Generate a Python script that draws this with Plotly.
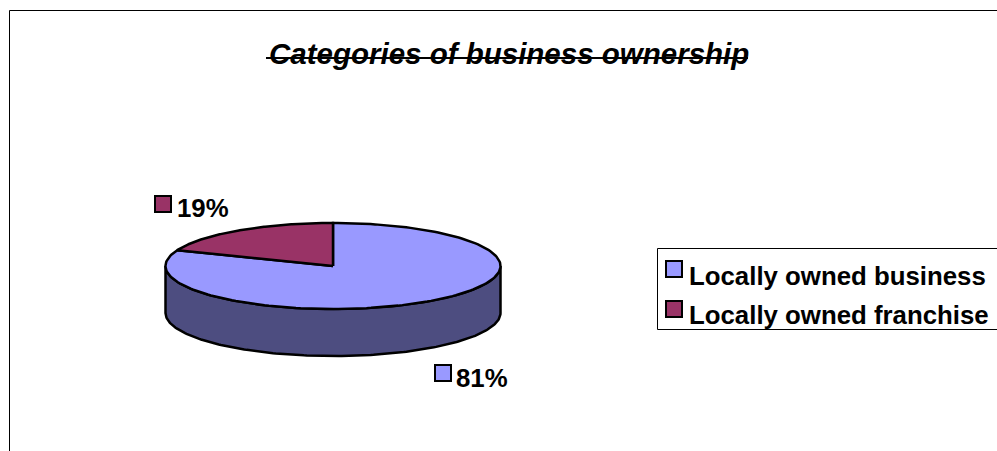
import numpy as np
import plotly.graph_objects as go

categories = ["Locally owned business", "Locally owned franchise"]
shares = [81, 19]
labels = ["81%", "19%"]
colors = ["#9999FF", "#993366"]
wall_color = "#4D4D80"
title = "Categories of business ownership"

FONT = "Liberation Sans, Arial, sans-serif"
W, H = 997, 451
# pie ellipse in pixels
cx, cy, rx, ry, depth = 333, 266, 167.5, 43, 47


def ellipse(start, end, dy=0):
    t = np.radians(np.linspace(start, end, 181))
    return cx + rx * np.sin(t), cy + dy - ry * np.cos(t)


fig = go.Figure()

# side wall, front half of the disc
x1, y1 = ellipse(90, 270)
x2, y2 = ellipse(270, 90, depth)
fig.add_trace(go.Scatter(
    x=np.r_[x1, x2, x1[0]], y=np.r_[y1, y2, y1[0]],
    mode="lines", fill="toself", fillcolor=wall_color,
    line=dict(color="black", width=2.5), hoverinfo="skip", showlegend=False))

# top slices, clockwise from 12 o'clock
start = 0
for name, share, color in zip(categories, shares, colors):
    end = start + share / sum(shares) * 360
    x, y = ellipse(start, end)
    fig.add_trace(go.Scatter(
        x=np.r_[cx, x, cx], y=np.r_[cy, y, cy],
        mode="lines", fill="toself", fillcolor=color, name=name,
        line=dict(color="black", width=2.5), showlegend=False))
    start = end


def line(x0, y0, x1, y1, color="black", width=1):
    return dict(type="line", x0=x0, y0=y0, x1=x1, y1=y1, layer="above",
                line=dict(color=color, width=width))


def swatch(x, y, color):
    return dict(type="rect", x0=x, y0=y, x1=x + 16, y1=y + 16, layer="above",
                fillcolor=color, line=dict(color="black", width=2))


def text(x, y, s, size=25.8, anchor="left", style="normal"):
    return dict(x=x, y=y, text=s, showarrow=False, xanchor=anchor, yanchor="middle",
                font=dict(family=FONT, size=size, color="black", weight="bold", style=style))


shapes = [
    # outer frame, runs off the page at right and bottom
    line(9.5, 10.5, W, 10.5), line(9.5, 10.5, 9.5, H),
    # title rule
    line(266, 58, 748, 58, width=2),
    # legend box
    dict(type="rect", x0=657.5, y0=248.5, x1=W + 5, y1=329.5, layer="below",
         fillcolor="white", line=dict(color="black", width=1)),
    swatch(666, 261, colors[0]), swatch(666, 301, colors[1]),
    swatch(155, 196, colors[1]), swatch(435, 365, colors[0]),
]

annotations = [
    text(508.5, 53, title, size=29.5, anchor="center", style="italic"),
    text(687, 276, categories[0]),
    text(687, 315, categories[1]),
    text(175, 208, labels[1]),
    text(454, 378, labels[0]),
]

fig.update_layout(
    width=W, height=H, margin=dict(l=0, r=0, t=0, b=0),
    paper_bgcolor="white", plot_bgcolor="white",
    xaxis=dict(range=[0, W], visible=False, fixedrange=True),
    yaxis=dict(range=[H, 0], visible=False, fixedrange=True),
    shapes=shapes, annotations=annotations,
)

fig.write_html("out.html", config=dict(displayModeBar=False),
               post_script="document.body.style.margin='0';")
